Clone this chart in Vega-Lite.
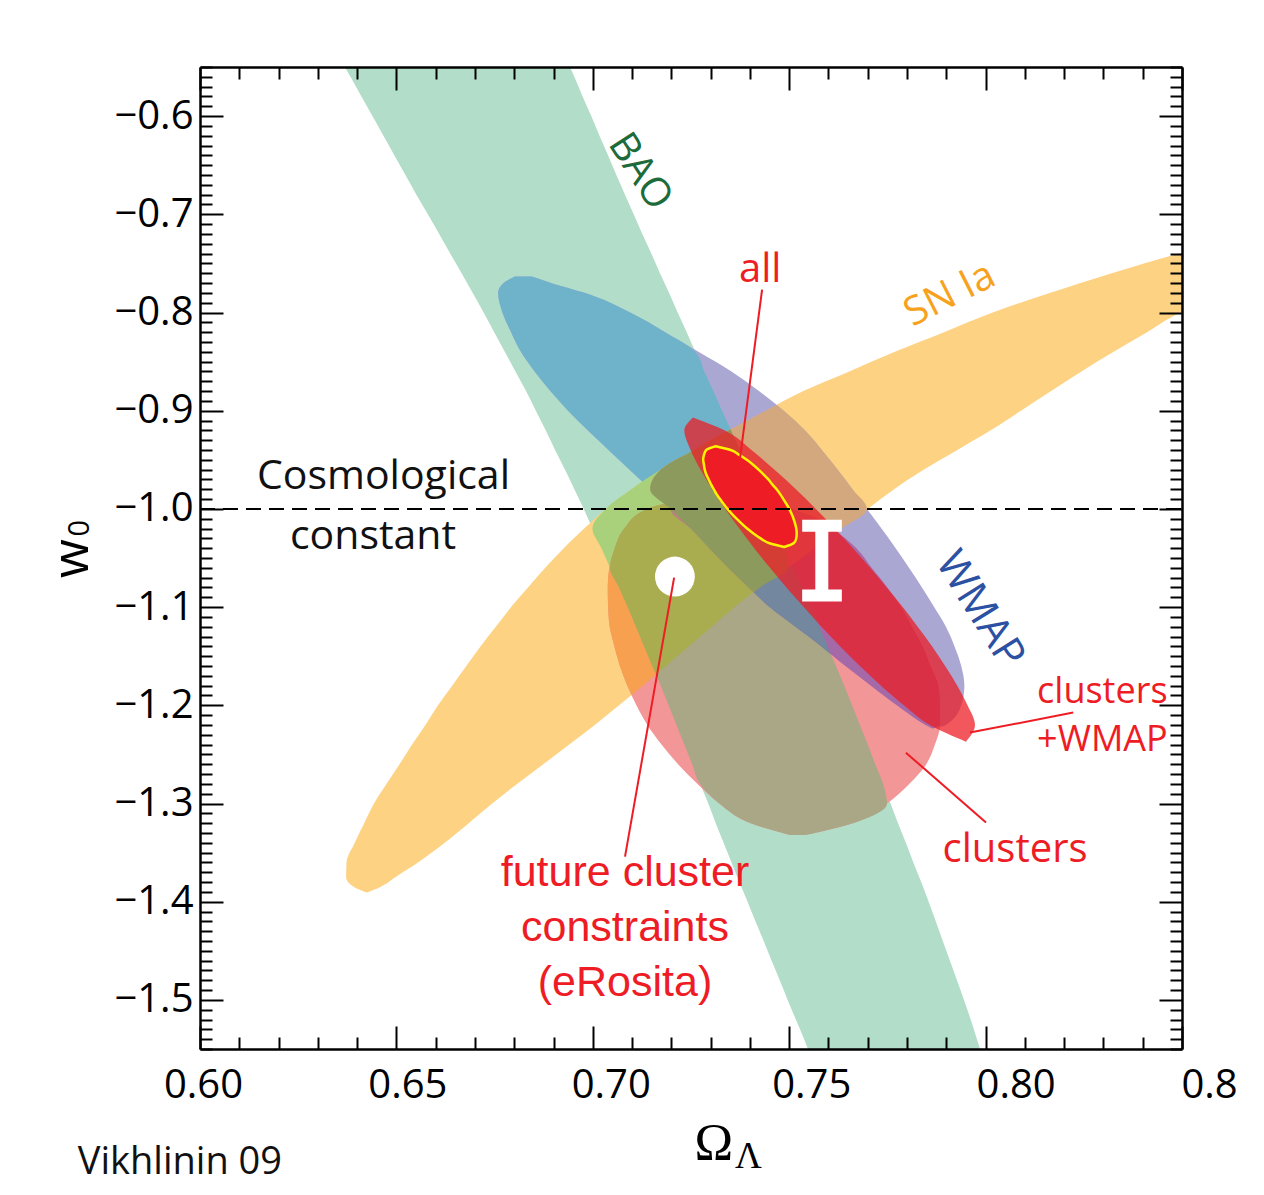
{
"$schema":"https://vega.github.io/schema/vega-lite/v6.json",
"width":982,"height":982,
"autosize":{"type":"none"},
"padding":{"left":200,"top":67,"right":82,"bottom":146},
"background":"white",
"config":{"view":{"stroke":null},"font":"Open Sans"},
"datasets":{"r":[
{"r":"BAO","y":-0.55,"x":0.6369,"x2":0.6942},{"r":"BAO","y":-0.56,"x":0.6383,"x2":0.6953},{"r":"BAO","y":-0.58,"x":0.6411,"x2":0.6974},{"r":"BAO","y":-0.6,"x":0.6439,"x2":0.6996},{"r":"BAO","y":-0.62,"x":0.6467,"x2":0.7017},{"r":"BAO","y":-0.64,"x":0.6495,"x2":0.7039},{"r":"BAO","y":-0.66,"x":0.6523,"x2":0.706},{"r":"BAO","y":-0.68,"x":0.6551,"x2":0.7082},{"r":"BAO","y":-0.7,"x":0.658,"x2":0.7104},{"r":"BAO","y":-0.72,"x":0.6609,"x2":0.7126},{"r":"BAO","y":-0.74,"x":0.6637,"x2":0.7149},{"r":"BAO","y":-0.76,"x":0.6666,"x2":0.7171},{"r":"BAO","y":-0.78,"x":0.6694,"x2":0.7194},{"r":"BAO","y":-0.8,"x":0.6722,"x2":0.7216},{"r":"BAO","y":-0.82,"x":0.6749,"x2":0.7239},{"r":"BAO","y":-0.84,"x":0.6776,"x2":0.7261},{"r":"BAO","y":-0.86,"x":0.6803,"x2":0.7284},{"r":"BAO","y":-0.88,"x":0.683,"x2":0.7307},{"r":"BAO","y":-0.9,"x":0.6855,"x2":0.7329},{"r":"BAO","y":-0.92,"x":0.688,"x2":0.7352},{"r":"BAO","y":-0.94,"x":0.6904,"x2":0.7375},{"r":"BAO","y":-0.96,"x":0.6929,"x2":0.7398},{"r":"BAO","y":-0.98,"x":0.6953,"x2":0.7421},{"r":"BAO","y":-1.0,"x":0.6977,"x2":0.7444},{"r":"BAO","y":-1.02,"x":0.6999,"x2":0.7466},{"r":"BAO","y":-1.04,"x":0.7022,"x2":0.7489},{"r":"BAO","y":-1.06,"x":0.7044,"x2":0.7511},{"r":"BAO","y":-1.08,"x":0.7067,"x2":0.7534},{"r":"BAO","y":-1.1,"x":0.7089,"x2":0.7556},{"r":"BAO","y":-1.12,"x":0.711,"x2":0.7577},{"r":"BAO","y":-1.14,"x":0.7131,"x2":0.7598},{"r":"BAO","y":-1.16,"x":0.7152,"x2":0.7619},{"r":"BAO","y":-1.18,"x":0.7173,"x2":0.764},{"r":"BAO","y":-1.2,"x":0.7193,"x2":0.766},{"r":"BAO","y":-1.22,"x":0.7213,"x2":0.768},{"r":"BAO","y":-1.24,"x":0.7233,"x2":0.77},{"r":"BAO","y":-1.26,"x":0.7253,"x2":0.7719},{"r":"BAO","y":-1.28,"x":0.7273,"x2":0.7739},{"r":"BAO","y":-1.3,"x":0.7294,"x2":0.7758},{"r":"BAO","y":-1.32,"x":0.7313,"x2":0.7777},{"r":"BAO","y":-1.34,"x":0.7333,"x2":0.7797},{"r":"BAO","y":-1.36,"x":0.7353,"x2":0.7816},{"r":"BAO","y":-1.38,"x":0.7373,"x2":0.7836},{"r":"BAO","y":-1.4,"x":0.7394,"x2":0.7855},{"r":"BAO","y":-1.42,"x":0.7414,"x2":0.7873},{"r":"BAO","y":-1.44,"x":0.7435,"x2":0.7891},{"r":"BAO","y":-1.46,"x":0.7455,"x2":0.7909},{"r":"BAO","y":-1.48,"x":0.7476,"x2":0.7927},{"r":"BAO","y":-1.5,"x":0.7496,"x2":0.7945},{"r":"BAO","y":-1.52,"x":0.7517,"x2":0.7962},{"r":"BAO","y":-1.54,"x":0.7538,"x2":0.7978},{"r":"BAO","y":-1.55,"x":0.7548,"x2":0.7986},
{"r":"SN","y":-0.74,"x":0.8491,"x2":0.8622},{"r":"SN","y":-0.76,"x":0.8321,"x2":0.8622},{"r":"SN","y":-0.78,"x":0.8165,"x2":0.8622},{"r":"SN","y":-0.8,"x":0.8018,"x2":0.8496},{"r":"SN","y":-0.82,"x":0.7894,"x2":0.8411},{"r":"SN","y":-0.84,"x":0.7769,"x2":0.8326},{"r":"SN","y":-0.86,"x":0.7653,"x2":0.8244},{"r":"SN","y":-0.88,"x":0.7536,"x2":0.8167},{"r":"SN","y":-0.9,"x":0.744,"x2":0.809},{"r":"SN","y":-0.92,"x":0.7346,"x2":0.8013},{"r":"SN","y":-0.94,"x":0.7257,"x2":0.7928},{"r":"SN","y":-0.96,"x":0.7173,"x2":0.7843},{"r":"SN","y":-0.98,"x":0.7098,"x2":0.7767},{"r":"SN","y":-1.0,"x":0.7033,"x2":0.77},{"r":"SN","y":-1.02,"x":0.6978,"x2":0.7633},{"r":"SN","y":-1.04,"x":0.6926,"x2":0.7565},{"r":"SN","y":-1.06,"x":0.6879,"x2":0.7496},{"r":"SN","y":-1.08,"x":0.6835,"x2":0.7425},{"r":"SN","y":-1.1,"x":0.6792,"x2":0.7361},{"r":"SN","y":-1.12,"x":0.6753,"x2":0.7303},{"r":"SN","y":-1.14,"x":0.6714,"x2":0.7244},{"r":"SN","y":-1.16,"x":0.6678,"x2":0.7186},{"r":"SN","y":-1.18,"x":0.6642,"x2":0.7127},{"r":"SN","y":-1.2,"x":0.6606,"x2":0.7067},{"r":"SN","y":-1.22,"x":0.6574,"x2":0.7005},{"r":"SN","y":-1.24,"x":0.654,"x2":0.694},{"r":"SN","y":-1.26,"x":0.6508,"x2":0.6874},{"r":"SN","y":-1.28,"x":0.6475,"x2":0.6808},{"r":"SN","y":-1.3,"x":0.6443,"x2":0.6744},{"r":"SN","y":-1.32,"x":0.6418,"x2":0.6684},{"r":"SN","y":-1.34,"x":0.6394,"x2":0.6623},{"r":"SN","y":-1.36,"x":0.6373,"x2":0.6555},{"r":"SN","y":-1.375,"x":0.6372,"x2":0.6497},{"r":"SN","y":-1.385,"x":0.6392,"x2":0.6459},{"r":"SN","y":-1.3907,"x":0.6425,"x2":0.6425},
{"r":"WM","y":-0.7634,"x":0.6802,"x2":0.6845},{"r":"WM","y":-0.7706,"x":0.6771,"x2":0.6899},{"r":"WM","y":-0.78,"x":0.6759,"x2":0.6979},{"r":"WM","y":-0.8,"x":0.677,"x2":0.7095},{"r":"WM","y":-0.82,"x":0.6792,"x2":0.7184},{"r":"WM","y":-0.84,"x":0.6817,"x2":0.7269},{"r":"WM","y":-0.86,"x":0.6852,"x2":0.7353},{"r":"WM","y":-0.88,"x":0.6892,"x2":0.7423},{"r":"WM","y":-0.9,"x":0.6937,"x2":0.7486},{"r":"WM","y":-0.92,"x":0.6987,"x2":0.754},{"r":"WM","y":-0.94,"x":0.704,"x2":0.7583},{"r":"WM","y":-0.96,"x":0.7093,"x2":0.7623},{"r":"WM","y":-0.98,"x":0.7146,"x2":0.7661},{"r":"WM","y":-1.0,"x":0.7198,"x2":0.7698},{"r":"WM","y":-1.02,"x":0.725,"x2":0.7735},{"r":"WM","y":-1.04,"x":0.7297,"x2":0.7771},{"r":"WM","y":-1.06,"x":0.7345,"x2":0.7805},{"r":"WM","y":-1.08,"x":0.7397,"x2":0.7838},{"r":"WM","y":-1.1,"x":0.745,"x2":0.7869},{"r":"WM","y":-1.12,"x":0.7516,"x2":0.7899},{"r":"WM","y":-1.14,"x":0.7582,"x2":0.7921},{"r":"WM","y":-1.16,"x":0.7643,"x2":0.7938},{"r":"WM","y":-1.18,"x":0.7708,"x2":0.7946},{"r":"WM","y":-1.2,"x":0.7774,"x2":0.7938},{"r":"WM","y":-1.22,"x":0.7847,"x2":0.7899},{"r":"WM","y":-1.2237,"x":0.7864,"x2":0.7864},
{"r":"CL","y":-0.9885,"x":0.7273,"x2":0.7426},{"r":"CL","y":-1.0,"x":0.7138,"x2":0.7509},{"r":"CL","y":-1.02,"x":0.708,"x2":0.7607},{"r":"CL","y":-1.04,"x":0.7056,"x2":0.7671},{"r":"CL","y":-1.06,"x":0.7042,"x2":0.771},{"r":"CL","y":-1.08,"x":0.7038,"x2":0.775},{"r":"CL","y":-1.1,"x":0.7039,"x2":0.7785},{"r":"CL","y":-1.12,"x":0.7043,"x2":0.7813},{"r":"CL","y":-1.14,"x":0.7055,"x2":0.784},{"r":"CL","y":-1.16,"x":0.7069,"x2":0.786},{"r":"CL","y":-1.18,"x":0.7088,"x2":0.788},{"r":"CL","y":-1.2,"x":0.7111,"x2":0.7884},{"r":"CL","y":-1.22,"x":0.7139,"x2":0.7884},{"r":"CL","y":-1.24,"x":0.7175,"x2":0.7871},{"r":"CL","y":-1.26,"x":0.7217,"x2":0.7849},{"r":"CL","y":-1.28,"x":0.7266,"x2":0.7806},{"r":"CL","y":-1.3,"x":0.7322,"x2":0.7749},{"r":"CL","y":-1.32,"x":0.7402,"x2":0.7662},{"r":"CL","y":-1.3322,"x":0.7502,"x2":0.754},
{"r":"BW","y":-0.7634,"x":0.6802,"x2":0.6845},{"r":"BW","y":-0.7706,"x":0.6771,"x2":0.6899},{"r":"BW","y":-0.78,"x":0.6759,"x2":0.6979},{"r":"BW","y":-0.8,"x":0.677,"x2":0.7095},{"r":"BW","y":-0.82,"x":0.6792,"x2":0.7184},{"r":"BW","y":-0.84,"x":0.6817,"x2":0.7261},{"r":"BW","y":-0.86,"x":0.6852,"x2":0.7284},{"r":"BW","y":-0.88,"x":0.6892,"x2":0.7307},{"r":"BW","y":-0.9,"x":0.6937,"x2":0.7329},{"r":"BW","y":-0.92,"x":0.6987,"x2":0.7352},{"r":"BW","y":-0.94,"x":0.704,"x2":0.7375},{"r":"BW","y":-0.96,"x":0.7093,"x2":0.7398},{"r":"BW","y":-0.98,"x":0.7146,"x2":0.7421},{"r":"BW","y":-1.0,"x":0.7198,"x2":0.7444},{"r":"BW","y":-1.02,"x":0.725,"x2":0.7466},{"r":"BW","y":-1.04,"x":0.7297,"x2":0.7489},{"r":"BW","y":-1.06,"x":0.7345,"x2":0.7511},{"r":"BW","y":-1.08,"x":0.7397,"x2":0.7534},{"r":"BW","y":-1.1,"x":0.745,"x2":0.7556},{"r":"BW","y":-1.12,"x":0.7516,"x2":0.7577},{"r":"BW","y":-1.14,"x":0.7582,"x2":0.7598},{"r":"BW","y":-1.1479,"x":0.7606,"x2":0.7606},
{"r":"BS","y":-0.919,"x":0.7351,"x2":0.7351},{"r":"BS","y":-0.92,"x":0.7346,"x2":0.7352},{"r":"BS","y":-0.94,"x":0.7257,"x2":0.7375},{"r":"BS","y":-0.96,"x":0.7173,"x2":0.7398},{"r":"BS","y":-0.98,"x":0.7098,"x2":0.7421},{"r":"BS","y":-1.0,"x":0.7033,"x2":0.7444},{"r":"BS","y":-1.02,"x":0.6999,"x2":0.7466},{"r":"BS","y":-1.04,"x":0.7022,"x2":0.7489},{"r":"BS","y":-1.06,"x":0.7044,"x2":0.7496},{"r":"BS","y":-1.08,"x":0.7067,"x2":0.7425},{"r":"BS","y":-1.1,"x":0.7089,"x2":0.7361},{"r":"BS","y":-1.12,"x":0.711,"x2":0.7303},{"r":"BS","y":-1.14,"x":0.7131,"x2":0.7244},{"r":"BS","y":-1.16,"x":0.7152,"x2":0.7186},{"r":"BS","y":-1.1686,"x":0.7161,"x2":0.7161},
{"r":"SW","y":-0.8943,"x":0.7468,"x2":0.7468},{"r":"SW","y":-0.9,"x":0.744,"x2":0.7486},{"r":"SW","y":-0.92,"x":0.7346,"x2":0.754},{"r":"SW","y":-0.94,"x":0.7257,"x2":0.7583},{"r":"SW","y":-0.96,"x":0.7173,"x2":0.7623},{"r":"SW","y":-0.98,"x":0.7146,"x2":0.7661},{"r":"SW","y":-1.0,"x":0.7198,"x2":0.7698},{"r":"SW","y":-1.02,"x":0.725,"x2":0.7633},{"r":"SW","y":-1.04,"x":0.7297,"x2":0.7565},{"r":"SW","y":-1.06,"x":0.7345,"x2":0.7496},{"r":"SW","y":-1.08,"x":0.7397,"x2":0.7425},{"r":"SW","y":-1.0848,"x":0.741,"x2":0.741},
{"r":"CS","y":-0.9885,"x":0.7273,"x2":0.7426},{"r":"CS","y":-1.0,"x":0.7138,"x2":0.7509},{"r":"CS","y":-1.02,"x":0.708,"x2":0.7607},{"r":"CS","y":-1.04,"x":0.7056,"x2":0.7565},{"r":"CS","y":-1.06,"x":0.7042,"x2":0.7496},{"r":"CS","y":-1.08,"x":0.7038,"x2":0.7425},{"r":"CS","y":-1.1,"x":0.7039,"x2":0.7361},{"r":"CS","y":-1.12,"x":0.7043,"x2":0.7303},{"r":"CS","y":-1.14,"x":0.7055,"x2":0.7244},{"r":"CS","y":-1.16,"x":0.7069,"x2":0.7186},{"r":"CS","y":-1.18,"x":0.7088,"x2":0.7127},{"r":"CS","y":-1.1894,"x":0.7099,"x2":0.7099},
{"r":"CB","y":-0.9885,"x":0.7273,"x2":0.7426},{"r":"CB","y":-1.0,"x":0.7138,"x2":0.7444},{"r":"CB","y":-1.02,"x":0.708,"x2":0.7466},{"r":"CB","y":-1.04,"x":0.7056,"x2":0.7489},{"r":"CB","y":-1.06,"x":0.7044,"x2":0.7511},{"r":"CB","y":-1.08,"x":0.7067,"x2":0.7534},{"r":"CB","y":-1.1,"x":0.7089,"x2":0.7556},{"r":"CB","y":-1.12,"x":0.711,"x2":0.7577},{"r":"CB","y":-1.14,"x":0.7131,"x2":0.7598},{"r":"CB","y":-1.16,"x":0.7152,"x2":0.7619},{"r":"CB","y":-1.18,"x":0.7173,"x2":0.764},{"r":"CB","y":-1.2,"x":0.7193,"x2":0.766},{"r":"CB","y":-1.22,"x":0.7213,"x2":0.768},{"r":"CB","y":-1.24,"x":0.7233,"x2":0.77},{"r":"CB","y":-1.26,"x":0.7253,"x2":0.7719},{"r":"CB","y":-1.28,"x":0.7273,"x2":0.7739},{"r":"CB","y":-1.3,"x":0.7322,"x2":0.7749},{"r":"CB","y":-1.32,"x":0.7402,"x2":0.7662},{"r":"CB","y":-1.3322,"x":0.7502,"x2":0.754},
{"r":"CW","y":-0.9885,"x":0.7273,"x2":0.7426},{"r":"CW","y":-1.0,"x":0.7198,"x2":0.7509},{"r":"CW","y":-1.02,"x":0.725,"x2":0.7607},{"r":"CW","y":-1.04,"x":0.7297,"x2":0.7671},{"r":"CW","y":-1.06,"x":0.7345,"x2":0.771},{"r":"CW","y":-1.08,"x":0.7397,"x2":0.775},{"r":"CW","y":-1.1,"x":0.745,"x2":0.7785},{"r":"CW","y":-1.12,"x":0.7516,"x2":0.7813},{"r":"CW","y":-1.14,"x":0.7582,"x2":0.784},{"r":"CW","y":-1.16,"x":0.7643,"x2":0.786},{"r":"CW","y":-1.18,"x":0.7708,"x2":0.788},{"r":"CW","y":-1.2,"x":0.7774,"x2":0.7884},{"r":"CW","y":-1.22,"x":0.7847,"x2":0.7884},{"r":"CW","y":-1.2237,"x":0.7864,"x2":0.7864},
{"r":"CSB","y":-0.9885,"x":0.7273,"x2":0.7426},{"r":"CSB","y":-1.0,"x":0.7138,"x2":0.7444},{"r":"CSB","y":-1.02,"x":0.708,"x2":0.7466},{"r":"CSB","y":-1.04,"x":0.7056,"x2":0.7489},{"r":"CSB","y":-1.06,"x":0.7044,"x2":0.7496},{"r":"CSB","y":-1.08,"x":0.7067,"x2":0.7425},{"r":"CSB","y":-1.1,"x":0.7089,"x2":0.7361},{"r":"CSB","y":-1.12,"x":0.711,"x2":0.7303},{"r":"CSB","y":-1.14,"x":0.7131,"x2":0.7244},{"r":"CSB","y":-1.16,"x":0.7152,"x2":0.7186},{"r":"CSB","y":-1.1686,"x":0.7161,"x2":0.7161},
{"r":"CBW","y":-0.9885,"x":0.7273,"x2":0.7426},{"r":"CBW","y":-1.0,"x":0.7198,"x2":0.7444},{"r":"CBW","y":-1.02,"x":0.725,"x2":0.7466},{"r":"CBW","y":-1.04,"x":0.7297,"x2":0.7489},{"r":"CBW","y":-1.06,"x":0.7345,"x2":0.7511},{"r":"CBW","y":-1.08,"x":0.7397,"x2":0.7534},{"r":"CBW","y":-1.1,"x":0.745,"x2":0.7556},{"r":"CBW","y":-1.12,"x":0.7516,"x2":0.7577},{"r":"CBW","y":-1.14,"x":0.7582,"x2":0.7598},{"r":"CBW","y":-1.1479,"x":0.7606,"x2":0.7606},
{"r":"CSW","y":-0.9885,"x":0.7273,"x2":0.7426},{"r":"CSW","y":-1.0,"x":0.7198,"x2":0.7509},{"r":"CSW","y":-1.02,"x":0.725,"x2":0.7607},{"r":"CSW","y":-1.04,"x":0.7297,"x2":0.7565},{"r":"CSW","y":-1.06,"x":0.7345,"x2":0.7496},{"r":"CSW","y":-1.08,"x":0.7397,"x2":0.7425},{"r":"CSW","y":-1.0848,"x":0.741,"x2":0.741},
{"r":"SBW","y":-0.919,"x":0.7351,"x2":0.7351},{"r":"SBW","y":-0.92,"x":0.7346,"x2":0.7352},{"r":"SBW","y":-0.94,"x":0.7257,"x2":0.7375},{"r":"SBW","y":-0.96,"x":0.7173,"x2":0.7398},{"r":"SBW","y":-0.98,"x":0.7146,"x2":0.7421},{"r":"SBW","y":-1.0,"x":0.7198,"x2":0.7444},{"r":"SBW","y":-1.02,"x":0.725,"x2":0.7466},{"r":"SBW","y":-1.04,"x":0.7297,"x2":0.7489},{"r":"SBW","y":-1.06,"x":0.7345,"x2":0.7496},{"r":"SBW","y":-1.08,"x":0.7397,"x2":0.7425},{"r":"SBW","y":-1.0848,"x":0.741,"x2":0.741},
{"r":"RED","y":-0.907,"x":0.7255,"x2":0.7255},{"r":"RED","y":-0.92,"x":0.7233,"x2":0.7335},{"r":"RED","y":-0.94,"x":0.7249,"x2":0.7404},{"r":"RED","y":-0.96,"x":0.7274,"x2":0.7462},{"r":"RED","y":-0.98,"x":0.7304,"x2":0.7517},{"r":"RED","y":-1.0,"x":0.7337,"x2":0.7568},{"r":"RED","y":-1.02,"x":0.7373,"x2":0.7616},{"r":"RED","y":-1.04,"x":0.7411,"x2":0.7662},{"r":"RED","y":-1.06,"x":0.7451,"x2":0.7706},{"r":"RED","y":-1.08,"x":0.7493,"x2":0.7748},{"r":"RED","y":-1.1,"x":0.7537,"x2":0.7789},{"r":"RED","y":-1.12,"x":0.7582,"x2":0.7827},{"r":"RED","y":-1.14,"x":0.763,"x2":0.7864},{"r":"RED","y":-1.16,"x":0.768,"x2":0.7897},{"r":"RED","y":-1.18,"x":0.7734,"x2":0.7928},{"r":"RED","y":-1.2,"x":0.7792,"x2":0.7954},{"r":"RED","y":-1.22,"x":0.7858,"x2":0.7973},{"r":"RED","y":-1.237,"x":0.795,"x2":0.795},
{"r":"ALL","y":-0.93615,"x":0.7313,"x2":0.7313},{"r":"ALL","y":-0.94,"x":0.7289,"x2":0.7351},{"r":"ALL","y":-0.945,"x":0.7283,"x2":0.7373},{"r":"ALL","y":-0.95,"x":0.7281,"x2":0.7392},{"r":"ALL","y":-0.955,"x":0.7283,"x2":0.7408},{"r":"ALL","y":-0.96,"x":0.7285,"x2":0.7422},{"r":"ALL","y":-0.965,"x":0.7289,"x2":0.7435},{"r":"ALL","y":-0.97,"x":0.7295,"x2":0.7447},{"r":"ALL","y":-0.975,"x":0.7301,"x2":0.7457},{"r":"ALL","y":-0.98,"x":0.7308,"x2":0.7468},{"r":"ALL","y":-0.985,"x":0.7315,"x2":0.7477},{"r":"ALL","y":-0.99,"x":0.7324,"x2":0.7485},{"r":"ALL","y":-0.995,"x":0.7333,"x2":0.7493},{"r":"ALL","y":-1.0,"x":0.7343,"x2":0.75},{"r":"ALL","y":-1.005,"x":0.7354,"x2":0.7506},{"r":"ALL","y":-1.01,"x":0.7366,"x2":0.7511},{"r":"ALL","y":-1.015,"x":0.7379,"x2":0.7515},{"r":"ALL","y":-1.02,"x":0.7393,"x2":0.7518},{"r":"ALL","y":-1.025,"x":0.7409,"x2":0.7519},{"r":"ALL","y":-1.03,"x":0.7427,"x2":0.7518},{"r":"ALL","y":-1.035,"x":0.745,"x2":0.7511},{"r":"ALL","y":-1.0388,"x":0.7487,"x2":0.7487}
]},
"layer":[
{
"encoding":{
"x":{"field":"x","type":"quantitative","scale":{"domain":[0.6,0.85],"nice":false,"zero":false},
"axis":{"orient":"bottom","values":[0.6,0.61,0.62,0.63,0.64,0.65,0.66,0.67,0.68,0.69,0.7,0.71,0.72,0.73,0.74,0.75,0.76,0.77,0.78,0.79,0.8,0.81,0.82,0.83,0.84,0.85],"title":null,"grid":false,"zindex":1,"domain":true,"domainColor":"#000","domainWidth":2.5,"tickColor":"#000","tickWidth":2,
"tickSize":{"condition":{"test":"abs(datum.value*20-round(datum.value*20))<0.01","value":-23},"value":-12},
"labelExpr":"abs(datum.value*20-round(datum.value*20))<0.01 ? (datum.value>0.84 ? '0.8' : format(datum.value,'.2f')) : ''",
"labelFont":"Open Sans","labelFontSize":40,"labelColor":"#000","labelPadding":39,"labelOverlap":false,"labelFlush":false,"labelBound":false,
"labelOffset":{"condition":[{"test":"datum.value>0.84","value":27},{"test":"datum.value>0.79","value":30},{"test":"datum.value>0.74","value":22},{"test":"datum.value>0.69","value":18},{"test":"datum.value>0.64","value":11}],"value":3}}},
"y":{"field":"y","type":"quantitative","scale":{"domain":[-1.55,-0.55],"nice":false,"zero":false},
"axis":{"orient":"left","values":[-0.55,-0.56,-0.57,-0.58,-0.59,-0.6,-0.61,-0.62,-0.63,-0.64,-0.65,-0.66,-0.67,-0.68,-0.69,-0.7,-0.71,-0.72,-0.73,-0.74,-0.75,-0.76,-0.77,-0.78,-0.79,-0.8,-0.81,-0.82,-0.83,-0.84,-0.85,-0.86,-0.87,-0.88,-0.89,-0.9,-0.91,-0.92,-0.93,-0.94,-0.95,-0.96,-0.97,-0.98,-0.99,-1,-1.01,-1.02,-1.03,-1.04,-1.05,-1.06,-1.07,-1.08,-1.09,-1.1,-1.11,-1.12,-1.13,-1.14,-1.15,-1.16,-1.17,-1.18,-1.19,-1.2,-1.21,-1.22,-1.23,-1.24,-1.25,-1.26,-1.27,-1.28,-1.29,-1.3,-1.31,-1.32,-1.33,-1.34,-1.35,-1.36,-1.37,-1.38,-1.39,-1.4,-1.41,-1.42,-1.43,-1.44,-1.45,-1.46,-1.47,-1.48,-1.49,-1.5,-1.51,-1.52,-1.53,-1.54,-1.55],"title":null,"grid":false,"zindex":1,"domain":true,"domainColor":"#000","domainWidth":2.5,"tickColor":"#000","tickWidth":2,
"tickSize":{"condition":{"test":"abs(datum.value*10-round(datum.value*10))<0.01","value":-23},"value":-12},
"labelExpr":"abs(datum.value*10-round(datum.value*10))<0.01 ? format(datum.value,'.1f') : ''",
"labelFont":"Open Sans","labelFontSize":40,"labelColor":"#000","labelPadding":30,"labelOverlap":false,"labelFlush":false,"labelBound":false}}
},
"layer":[
{"data":{"name":"r"},"transform":[{"filter":"datum.r==='BAO'"}],"mark":{"type":"area","orient":"horizontal","interpolate":"monotone","clip":true,"color":"#b2ddc8"},"encoding":{"x2":{"field":"x2"}}},
{"data":{"name":"r"},"transform":[{"filter":"datum.r==='SN'"}],"mark":{"type":"area","orient":"horizontal","interpolate":"monotone","clip":true,"color":"#fdd283"},"encoding":{"x2":{"field":"x2"}}},
{"data":{"name":"r"},"transform":[{"filter":"datum.r==='WM'"}],"mark":{"type":"area","orient":"horizontal","interpolate":"monotone","clip":true,"color":"#aaa8d3"},"encoding":{"x2":{"field":"x2"}}},
{"data":{"name":"r"},"transform":[{"filter":"datum.r==='CL'"}],"mark":{"type":"area","orient":"horizontal","interpolate":"monotone","clip":true,"color":"#f39697"},"encoding":{"x2":{"field":"x2"}}},
{"data":{"name":"r"},"transform":[{"filter":"datum.r==='BW'"}],"mark":{"type":"area","orient":"horizontal","interpolate":"monotone","clip":true,"color":"#6fb3cb"},"encoding":{"x2":{"field":"x2"}}},
{"data":{"name":"r"},"transform":[{"filter":"datum.r==='BS'"}],"mark":{"type":"area","orient":"horizontal","interpolate":"monotone","clip":true,"color":"#a9d07b"},"encoding":{"x2":{"field":"x2"}}},
{"data":{"name":"r"},"transform":[{"filter":"datum.r==='SW'"}],"mark":{"type":"area","orient":"horizontal","interpolate":"monotone","clip":true,"color":"#d4a87f"},"encoding":{"x2":{"field":"x2"}}},
{"data":{"name":"r"},"transform":[{"filter":"datum.r==='CS'"}],"mark":{"type":"area","orient":"horizontal","interpolate":"monotone","clip":true,"color":"#f6a050"},"encoding":{"x2":{"field":"x2"}}},
{"data":{"name":"r"},"transform":[{"filter":"datum.r==='CB'"}],"mark":{"type":"area","orient":"horizontal","interpolate":"monotone","clip":true,"color":"#a9a785"},"encoding":{"x2":{"field":"x2"}}},
{"data":{"name":"r"},"transform":[{"filter":"datum.r==='CW'"}],"mark":{"type":"area","orient":"horizontal","interpolate":"monotone","clip":true,"color":"#a569a8"},"encoding":{"x2":{"field":"x2"}}},
{"data":{"name":"r"},"transform":[{"filter":"datum.r==='CSB'"}],"mark":{"type":"area","orient":"horizontal","interpolate":"monotone","clip":true,"color":"#a9ad4f"},"encoding":{"x2":{"field":"x2"}}},
{"data":{"name":"r"},"transform":[{"filter":"datum.r==='CBW'"}],"mark":{"type":"area","orient":"horizontal","interpolate":"monotone","clip":true,"color":"#73879f"},"encoding":{"x2":{"field":"x2"}}},
{"data":{"name":"r"},"transform":[{"filter":"datum.r==='CSW'"}],"mark":{"type":"area","orient":"horizontal","interpolate":"monotone","clip":true,"color":"#c07f80"},"encoding":{"x2":{"field":"x2"}}},
{"data":{"name":"r"},"transform":[{"filter":"datum.r==='SBW'"}],"mark":{"type":"area","orient":"horizontal","interpolate":"monotone","clip":true,"color":"#8c9b5d"},"encoding":{"x2":{"field":"x2"}}},
{"data":{"name":"r"},"transform":[{"filter":"datum.r==='RED'"}],"mark":{"type":"area","orient":"horizontal","interpolate":"monotone","clip":true,"color":"#ec1c24","opacity":0.74},"encoding":{"x2":{"field":"x2"}}},
{"data":{"name":"r"},"transform":[{"filter":"datum.r==='ALL'"}],"mark":{"type":"area","orient":"horizontal","interpolate":"monotone","clip":true,"fill":"#ee1c24","stroke":"#fff200","strokeWidth":2.5},"encoding":{"x2":{"field":"x2"}}},
{"data":{"values":[{"x":0.7583,"y":-1.017,"y2":-1.0883}]},"mark":{"type":"rule","color":"white","strokeWidth":13},"encoding":{"y2":{"field":"y2"}}},
{"data":{"values":[{"x":0.7533,"x2":0.7634,"y":-1.0172},{"x":0.7533,"x2":0.7634,"y":-1.0883}]},"mark":{"type":"rule","color":"white","strokeWidth":12},"encoding":{"x2":{"field":"x2"}}},
{"data":{"values":[{"x":0.7209,"y":-1.0689}]},"mark":{"type":"circle","color":"white","opacity":1,"size":1590}},
{"data":{"values":[{"x":0.7431,"y":-0.7767,"x2":0.7375,"y2":-0.9478},{"x":0.8223,"y":-1.2074,"x2":0.796,"y2":-1.2278},{"x":0.8001,"y":-1.3194,"x2":0.7797,"y2":-1.2482},{"x":0.7207,"y":-1.07,"x2":0.7082,"y2":-1.3541}]},"mark":{"type":"rule","color":"#ee1c24","strokeWidth":2},"encoding":{"x2":{"field":"x2"},"y2":{"field":"y2"}}},
{"data":{"values":[{"x":0.6145,"y":-0.9671,"t":"Cosmological"},{"x":0.6229,"y":-1.0282,"t":"constant"}]},"mark":{"type":"text","font":"Open Sans","fontSize":41,"color":"#111","align":"left","baseline":"middle"},"encoding":{"text":{"field":"t"}}},
{"data":{"values":[{"x":0.712,"y":-0.6565,"t":"BAO"}]},"mark":{"type":"text","font":"Open Sans","fontSize":40,"color":"#1d6b3a","align":"center","baseline":"middle","angle":57},"encoding":{"text":{"field":"t"}}},
{"data":{"values":[{"x":0.7909,"y":-0.7818,"t":"SN Ia"}]},"mark":{"type":"text","font":"Open Sans","fontSize":40,"color":"#f7a21e","align":"center","baseline":"middle","angle":-27},"encoding":{"text":{"field":"t"}}},
{"data":{"values":[{"x":0.7426,"y":-0.7563,"t":"all"}]},"mark":{"type":"text","font":"Open Sans","fontSize":40,"color":"#ee1c24","align":"center","baseline":"middle"},"encoding":{"text":{"field":"t"}}},
{"data":{"values":[{"x":0.7986,"y":-1.1026,"t":"WMAP"}]},"mark":{"type":"text","font":"Open Sans","fontSize":42,"color":"#2c50a2","align":"center","baseline":"middle","angle":58},"encoding":{"text":{"field":"t"}}},
{"data":{"values":[{"x":0.8131,"y":-1.1861,"t":"clusters"},{"x":0.8131,"y":-1.2349,"t":"+WMAP"}]},"mark":{"type":"text","font":"Open Sans","fontSize":36,"color":"#ee1c24","align":"left","baseline":"middle"},"encoding":{"text":{"field":"t"}}},
{"data":{"values":[{"x":0.8075,"y":-1.347,"t":"clusters"}]},"mark":{"type":"text","font":"Open Sans","fontSize":40,"color":"#ee1c24","align":"center","baseline":"middle"},"encoding":{"text":{"field":"t"}}},
{"data":{"values":[{"x":0.7082,"y":-1.3705,"t":"future cluster"},{"x":0.7082,"y":-1.4265,"t":"constraints"},{"x":0.7082,"y":-1.4825,"t":"(eRosita)"}]},"mark":{"type":"text","font":"Liberation Sans","fontSize":43,"color":"#ee1c24","align":"center","baseline":"middle"},"encoding":{"text":{"field":"t"}}},
{"data":{"values":[{"x":0.5689,"y":-1.6657,"t":"Vikhlinin 09"}]},"mark":{"type":"text","font":"Open Sans","fontSize":38,"color":"#111","align":"left","baseline":"middle"},"encoding":{"text":{"field":"t"}}},
{"data":{"values":[{"x":0.7308,"y":-1.6626,"t":"Ω"}]},"mark":{"type":"text","font":"Liberation Serif","fontSize":52,"color":"#000","align":"center","baseline":"alphabetic"},"encoding":{"text":{"field":"t"}}},
{"data":{"values":[{"x":0.7396,"y":-1.6708,"t":"Λ"}]},"mark":{"type":"text","font":"Liberation Serif","fontSize":37,"color":"#000","align":"center","baseline":"alphabetic"},"encoding":{"text":{"field":"t"}}},
{"data":{"values":[{"x":0.5715,"y":-1.0506,"t":"w"}]},"mark":{"type":"text","font":"Open Sans","fontSize":50,"color":"#000","align":"center","baseline":"alphabetic","angle":270},"encoding":{"text":{"field":"t"}}},
{"data":{"values":[{"x":0.5717,"y":-1.0196,"t":"0"}]},"mark":{"type":"text","font":"Open Sans","fontSize":29,"color":"#000","align":"center","baseline":"alphabetic","angle":270},"encoding":{"text":{"field":"t"}}}
]
},
{
"data":{"values":[{"x":0.6,"x2":0.85,"y":-1.0}]},
"mark":{"type":"rule","color":"#000","strokeWidth":2,"strokeDash":[15,8]},
"encoding":{
"x":{"field":"x","type":"quantitative","scale":{"domain":[0.6,0.85],"nice":false,"zero":false},
"axis":{"orient":"top","values":[0.6,0.61,0.62,0.63,0.64,0.65,0.66,0.67,0.68,0.69,0.7,0.71,0.72,0.73,0.74,0.75,0.76,0.77,0.78,0.79,0.8,0.81,0.82,0.83,0.84,0.85],"title":null,"grid":false,"zindex":1,"labels":false,"domain":true,"domainColor":"#000","domainWidth":2.5,"tickColor":"#000","tickWidth":2,
"tickSize":{"condition":{"test":"abs(datum.value*20-round(datum.value*20))<0.01","value":-23},"value":-12}}},
"x2":{"field":"x2"},
"y":{"field":"y","type":"quantitative","scale":{"domain":[-1.55,-0.55],"nice":false,"zero":false},
"axis":{"orient":"right","values":[-0.55,-0.56,-0.57,-0.58,-0.59,-0.6,-0.61,-0.62,-0.63,-0.64,-0.65,-0.66,-0.67,-0.68,-0.69,-0.7,-0.71,-0.72,-0.73,-0.74,-0.75,-0.76,-0.77,-0.78,-0.79,-0.8,-0.81,-0.82,-0.83,-0.84,-0.85,-0.86,-0.87,-0.88,-0.89,-0.9,-0.91,-0.92,-0.93,-0.94,-0.95,-0.96,-0.97,-0.98,-0.99,-1,-1.01,-1.02,-1.03,-1.04,-1.05,-1.06,-1.07,-1.08,-1.09,-1.1,-1.11,-1.12,-1.13,-1.14,-1.15,-1.16,-1.17,-1.18,-1.19,-1.2,-1.21,-1.22,-1.23,-1.24,-1.25,-1.26,-1.27,-1.28,-1.29,-1.3,-1.31,-1.32,-1.33,-1.34,-1.35,-1.36,-1.37,-1.38,-1.39,-1.4,-1.41,-1.42,-1.43,-1.44,-1.45,-1.46,-1.47,-1.48,-1.49,-1.5,-1.51,-1.52,-1.53,-1.54,-1.55],"title":null,"grid":false,"zindex":1,"labels":false,"domain":true,"domainColor":"#000","domainWidth":2.5,"tickColor":"#000","tickWidth":2,
"tickSize":{"condition":{"test":"abs(datum.value*10-round(datum.value*10))<0.01","value":-23},"value":-12}}}
}
}
],
"resolve":{"scale":{"x":"independent","y":"independent"}}
}
